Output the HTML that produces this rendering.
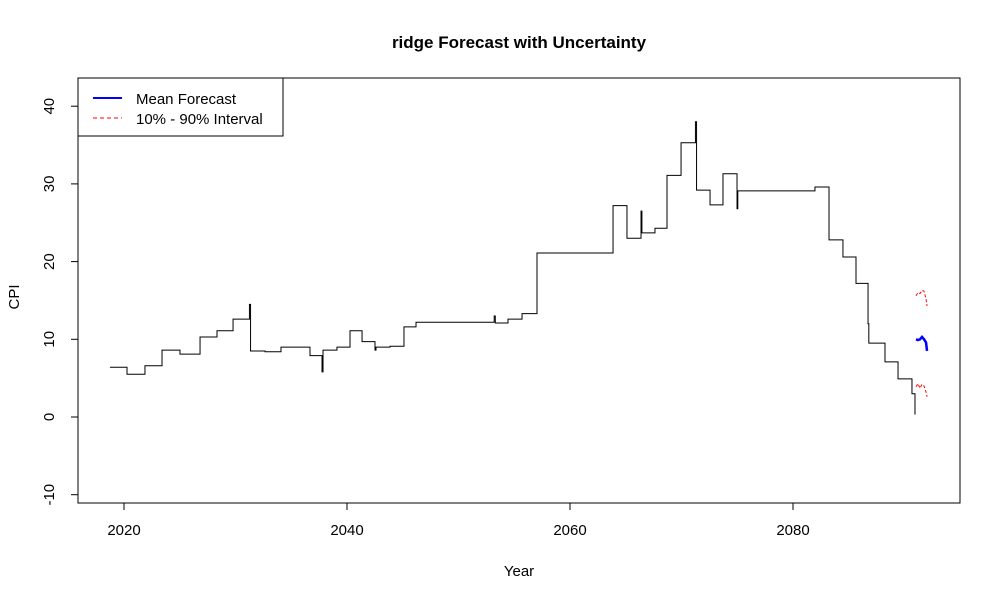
<!DOCTYPE html>
<html><head><meta charset="utf-8"><style>
body{margin:0;background:#fff}
svg{display:block;font-family:"Liberation Sans",Arial,sans-serif}
</style></head><body>
<svg id="chart" width="1000" height="600">
<rect width="1000" height="600" fill="#fff"/>
<text x="519" y="48" text-anchor="middle" font-size="17" font-weight="bold">ridge Forecast with Uncertainty</text>
<rect x="78" y="78" width="882" height="425" fill="none" stroke="#000"/>
<g id="xaxis"></g>
<g id="yaxis"></g>
<text x="519" y="576" text-anchor="middle" font-size="15">Year</text>
<text x="19" y="297" text-anchor="middle" font-size="15" transform="rotate(-90 19 297)">CPI</text>
<g id="series"></g>
<g>
<rect x="78" y="78" width="205" height="58" fill="#fff" stroke="#000"/>
<line x1="93" y1="98" x2="122" y2="98" stroke="#0000ff" stroke-width="2"/>
<text x="136" y="104" font-size="15">Mean Forecast</text>
<line x1="93" y1="118" x2="122" y2="118" stroke="#ff0000" stroke-dasharray="4,3"/>
<text x="136" y="124" font-size="15">10% - 90% Interval</text>
</g>
</svg>
<script>
const histYears=[2018.74,2020.27,2021.88,2023.41,2025.02,2026.82,2028.34,2029.78,2031.25,2031.35,2032.65,2034.08,2036.68,2037.76,2037.85,2039.10,2040.27,2041.35,2042.51,2042.6,2043.86,2045.11,2046.19,2053.2,2053.3,2054.44,2055.70,2057.04,2063.86,2065.11,2066.37,2066.45,2067.62,2068.70,2069.96,2071.25,2071.35,2072.56,2073.72,2074.98,2075.05,2081.97,2083.23,2084.48,2085.65,2086.73,2086.8,2088.25,2089.42,2090.67,2090.94];
const histValues=[6.4,5.5,6.6,8.6,8.1,10.3,11.1,12.6,14.5,8.5,8.4,9.0,7.9,5.8,8.6,9.0,11.1,9.7,8.6,9.0,9.1,11.6,12.2,13.0,12.1,12.6,13.3,21.1,27.2,23.0,26.5,23.7,24.3,31.1,35.3,38.0,29.2,27.3,31.3,26.8,29.1,29.6,22.8,20.6,17.2,12.0,9.5,7.1,4.9,3.0,0.3];
const fcYears=[2091.03,2091.21,2091.39,2091.57,2091.75,2091.93,2092.02];
const fcMean=[10.0,9.9,10.0,10.3,10.0,9.6,8.5];
const fcUpper=[15.6,16.0,15.9,16.3,16.2,15.2,14.3];
const fcLower=[3.9,4.3,3.7,4.2,4.0,3.2,2.6];
const xTicks=[2020,2040,2060,2080];
const yTicks=[-10,0,10,20,30,40];

const NS="http://www.w3.org/2000/svg";
const X=y=>124+(y-2020)*11.15;
const Y=v=>417-v*7.77;
function mk(tag,attrs,parent){const e=document.createElementNS(NS,tag);for(const k in attrs)e.setAttribute(k,attrs[k]);parent.appendChild(e);return e;}
const xa=document.getElementById('xaxis'),ya=document.getElementById('yaxis'),sg=document.getElementById('series');
mk('line',{x1:X(xTicks[0]),x2:X(xTicks[xTicks.length-1]),y1:503,y2:503,stroke:'#000'},xa);
xTicks.forEach(t=>{
  const l=mk('line',{x1:X(t),x2:X(t),y1:503,y2:510,stroke:'#000'},xa);
  
  
  const tx=mk('text',{x:X(t),y:535,'text-anchor':'middle','font-size':15},xa);tx.textContent=t;
  
  
});
mk('line',{x1:78,x2:78,y1:Y(yTicks[0]),y2:Y(yTicks[yTicks.length-1]),stroke:'#000'},ya);
yTicks.forEach(t=>{
  const l=mk('line',{x1:71,x2:78,y1:Y(t),y2:Y(t),stroke:'#000'},ya);
  
  
  const tx=mk('text',{x:54,y:Y(t),'text-anchor':'middle','font-size':15,transform:`rotate(-90 54 ${Y(t)})`},ya);tx.textContent=t;
  
  
});
let d=`M${X(histYears[0])},${Y(histValues[0])}`;
for(let i=1;i<histYears.length;i++){d+=` H${X(histYears[i])} V${Y(histValues[i])}`;}
const hp=mk('path',{d:d,fill:'none',stroke:'#000','stroke-width':1},sg);


const line=arr=>fcYears.map((y,i)=>`${i?'L':'M'}${X(y)},${Y(arr[i])}`).join(' ');
const up=mk('path',{d:line(fcUpper),fill:'none',stroke:'#ff0000','stroke-dasharray':'3,2'},sg);


const lo=mk('path',{d:line(fcLower),fill:'none',stroke:'#ff0000','stroke-dasharray':'3,2'},sg);


const mn=mk('path',{d:line(fcMean),fill:'none',stroke:'#0000ff','stroke-width':2.5},sg);


</script>
</body></html>
